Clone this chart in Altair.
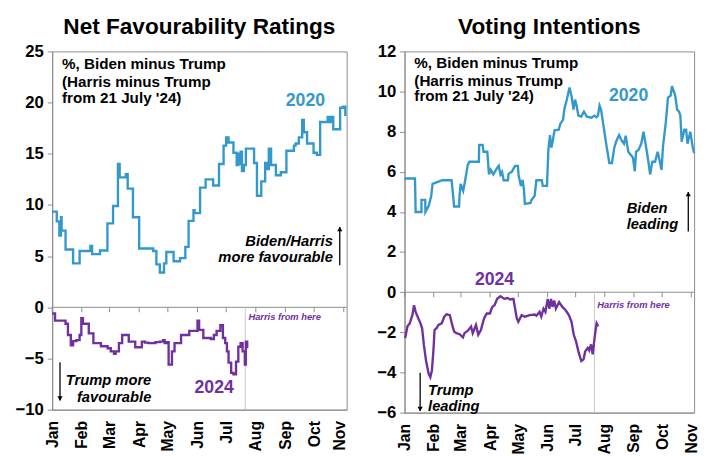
import altair as alt
import pandas as pd

# ---------------- data ----------------
MONTHS = ["Jan", "Feb", "Mar", "Apr", "May", "Jun", "Jul", "Aug", "Sep", "Oct", "Nov"]
MONTH_DAYS = [0, 31, 60, 91, 121, 152, 182, 213, 244, 274, 305]   # day index from 1 Jan (leap years)
X_END = 308
HARRIS_DAY = 202   # 21 July

# Net favourability, 2020 (Biden minus Trump) - stepped poll average
L20_DAY = [0, 4.8, 7.5, 9.2, 9.9, 14, 21.9, 28.7, 40, 41.8, 50, 57.8, 63.7, 68.8, 70.6, 77, 79, 84.5, 91,
           105.7, 109, 112.6, 117, 119.4, 127, 133.8, 139.3, 142.7, 147.8, 149, 154.7, 160.5, 168.4, 174.5,
           179.3, 182, 184.5, 189.6, 193, 194.7, 195.8, 197.1, 198.5, 200.5, 202.6, 211.2, 214.2, 218.7,
           222.8, 224.8, 226.6, 229, 234, 239.2, 245, 252.9, 254.6, 258, 261.5, 263.2, 266.6, 273.4, 276.9,
           280.3, 288.2, 290.6, 292.3, 294, 301.2, 304.2, 306.6, 308]
L20_VAL = [9.35, 8.4, 7.0, 8.8, 7.5, 5.65, 4.3, 5.5, 6.0, 5.2, 5.55, 8.2, 9.9, 14.0, 12.7, 13.0, 11.6, 8.8, 5.75,
           5.5, 4.2, 3.4, 4.3, 5.4, 4.5, 4.8, 5.9, 8.45, 9.5, 9.2, 11.7, 12.5, 11.9, 14.0,
           15.8, 16.6, 16.1, 15.1, 13.9, 15.0, 14.0, 15.2, 13.3, 13.9, 15.5, 14.1, 10.9, 12.3,
           14.1, 13.5, 15.5, 13.9, 12.9, 13.2, 15.3, 15.8, 16.0, 16.6, 18.3, 17.1, 16.0, 15.1, 14.9,
           18.1, 18.6, 18.1, 18.6, 17.4, 19.5, 19.6, 18.8, 18.8]

# Net favourability, 2024 (Biden/Harris minus Trump)
L24_DAY = [0, 3, 14, 16.5, 19.5, 21.9, 25.3, 28.7, 30.5, 32.2, 38.3, 43.1, 51, 58, 61.3, 64.7, 66.4, 69.8,
           73.2, 80.1, 86.9, 93.8, 97, 100.6, 108, 112.6, 116, 117.7, 119.5, 121.8, 125.3, 128, 134.8,
           143.4, 152, 153.7, 158.1, 166, 169.1, 172, 175.9, 178.6, 181, 182.8, 184.5, 187.2, 189.6,
           192.3, 194.7, 197.1, 199.2, 201.5, 202.6, 204]
L24_VAL = [-0.6, -1.3, -1.6, -2.7, -3.7, -3.3, -3.2, -2.7, -1.05, -1.6, -2.55, -3.5, -3.8, -4.0, -4.3, -4.55,
           -4.3, -3.5, -2.7, -3.35, -3.9, -3.35, -3.45, -3.5, -3.4, -3.35, -3.2, -3.5, -3.4, -5.6, -4.3, -3.5,
           -2.7, -2.3, -1.3, -2.2, -3.0, -3.1, -2.7, -2.3, -1.75, -3.0, -3.5, -4.3, -5.4, -6.4, -6.55,
           -5.3, -3.85, -3.5, -4.3, -5.6, -3.35, -4.0]

# Voting intentions, 2020
R20_DAY = [0, 11.1, 11.8, 18, 18, 22, 22.2, 25.7, 28.4, 29.8, 40.2, 50, 51.7, 52.7, 58, 58.5, 59.7, 62.4, 64.5,
           67.3, 69, 79, 79.4, 83, 84, 88, 89.8, 91.6, 94.4, 98.5, 100.2, 102, 103.7, 105.4, 110, 110.6, 114,
           117.6, 120.5, 121.4, 123.8, 125.6, 127, 128, 134, 135, 138.4, 140.2, 146, 147, 151.5, 153, 154.7,
           156.1, 157.5, 159.5, 164, 165.8, 168.6, 170, 172.7, 175.5, 177.9, 179.7, 181.4, 183, 184.9, 188,
           190.8, 194, 198.8, 202, 204, 205.7, 207.4, 209, 211.6, 214.4, 217.8, 220.6, 223, 225, 228.2, 231,
           233.4, 235.2, 238, 240.5, 243, 244.9, 246.3, 249, 251.8, 254.2, 256, 259.4, 261.2, 263.6, 266.5,
           269.2, 270.5, 273.3, 275, 278, 280.2, 283, 284.5, 287.9, 290, 292, 293.4, 294.8, 297.6, 299.5,
           301, 303.9, 306.3, 308]
R20_VAL = [5.67, 5.67, 4.0, 4.0, 4.6, 4.6, 4.0, 4.3, 4.8, 5.4, 5.58, 5.58, 4.8, 4.27, 4.27, 4.8, 5.4, 5.05, 5.58,
           6.36, 6.5, 6.5, 7.34, 7.34, 7.0, 7.0, 5.87, 6.1, 5.87, 6.2, 6.3, 5.87, 6.0, 5.58, 5.58, 5.9, 6.0,
           6.3, 6.3, 5.8, 5.3, 5.6, 5.1, 4.4, 4.45, 4.6, 4.8, 5.58, 5.58, 5.3, 5.3, 7.1, 7.83,
           7.2, 7.5, 8.07, 8.1, 8.4, 8.6, 9.13, 9.62, 10.2, 9.7, 9.1, 9.6, 9.3, 8.8, 8.75,
           9.0, 8.75, 8.7, 8.8, 8.72, 8.8, 9.3, 9.1, 8.3, 7.42, 6.44, 6.44, 7.18, 7.5, 7.83, 7.55,
           7.4, 7.8, 7.0, 6.85, 6.7, 6.03, 7.0, 7.1, 7.4, 8.0, 7.5, 6.5, 5.87, 6.5, 6.5,
           7.0, 6.75, 6.1, 7.3, 8.5, 9.7, 9.8, 10.27, 9.8, 9.1, 9.0, 8.8, 7.5, 8.1, 8.1,
           7.4, 8.0, 7.3, 6.93]

# Voting intentions, 2024
R24_DAY = [0.7, 3.1, 5.5, 8.3, 10.1, 11.8, 14.6, 17, 18.7, 20.5, 22.9, 25.7, 27.4, 29.1, 30.9, 31.9, 34, 36.1,
           39.5, 42.3, 44.7, 48.2, 50.7, 52.7, 55.2, 58.6, 62.1, 63.8, 67.3, 70.8, 72.5, 76, 78.4, 81.2, 84.6,
           87.4, 90.8, 93.3, 95.7, 98.5, 102, 106.1, 109.6, 112.4, 115.8, 117.6, 119.4, 121, 124.6, 128,
           133.2, 138.4, 140.2, 143.6, 145.4, 147.8, 149.8, 152.3, 154, 155.8, 157.4, 159.2, 161, 164.4,
           167.9, 171.4, 174.8, 177.6, 180, 182.4, 185.2, 188, 190.4, 192.2, 194.9, 196.4, 198.4, 200.1,
           202.6, 204.3, 206]
R24_VAL = [-2.28, -1.7, -1.55, -1.14, -0.65, -0.98, -1.3, -1.55, -1.8, -2.6, -3.43, -4.08, -4.24, -3.9, -2.77,
           -1.88, -1.79, -1.63, -1.55, -1.22, -1.1, -1.14, -1.63, -1.96, -2.04, -2.09, -2.25, -2.04, -1.92,
           -1.71, -2.04, -1.63, -2.12, -1.88, -1.3, -1.06, -1.06, -0.73, -0.65, -0.33, -0.2, -0.33, -0.29,
           -0.36, -0.33, -0.82, -1.3, -1.47, -1.14, -1.22, -1.14, -1.11, -1.17, -0.98, -1.22, -0.82, -0.98,
           -0.33, -0.82, -0.33, -0.73, -0.41, -0.82, -0.49, -0.73, -0.9, -1.14, -1.47, -2.12, -2.45, -3.0,
           -3.43, -3.34, -2.94, -2.77, -2.9, -2.6, -3.1, -2.1, -1.55, -1.7]

# ---------------- annotation texts ----------------
NOTE_LINES = ["%, Biden minus Trump", "(Harris minus Trump", "from 21 July '24)"]
L_NOTE_POS = (10.3, [23.73, 22.01, 20.45])
R_NOTE_POS = (10.4, [11.40, 10.52, 9.76])

# ---------------- style ----------------
BLUE = "#3399CC"
PURPLE = "#7030A0"
FONT = "Liberation Sans"
FRAME = "#8C8C8C"

label_expr = "[" + ",".join("'%s'" % m for m in MONTHS) + "][indexof([" + \
    ",".join(str(d) for d in MONTH_DAYS) + "], datum.value)]"


def make_panel(title, ymin, ymax, ystep, width, height, s20, s24, interp20, texts, arrows, tick_len,
               note_pos, nov_shift):
    xs = alt.Scale(domain=[0, X_END], nice=False, zero=False)
    ys = alt.Scale(domain=[ymin, ymax], nice=False, zero=False)
    xaxis = alt.Axis(values=MONTH_DAYS, labelExpr=label_expr, labelAngle=270, ticks=False,
                     labelPadding=11, labelFlush=False, labelOverlap=False, title=None, grid=False,
                     labelFontSize=16,
                     labelOffset={"condition": {"test": "datum.value == %d" % MONTH_DAYS[-1],
                                                "value": nov_shift},
                                  "value": 0})
    yaxis = alt.Axis(values=list(range(ymin, ymax + 1, ystep)), title=None, grid=False, tickSize=5,
                     labelPadding=4, labelFontSize=17, minExtent=44, maxExtent=44,
                     labelFlush=False, labelOverlap=False)

    def X(f):
        return alt.X(f, type="quantitative", scale=xs, axis=xaxis)

    def Y(f):
        return alt.Y(f, type="quantitative", scale=ys, axis=yaxis)

    layers = []
    d20 = pd.DataFrame({"d": s20[0], "v": s20[1], "i": range(len(s20[0]))})
    d24 = pd.DataFrame({"d": s24[0], "v": s24[1], "i": range(len(s24[0]))})
    # zero line
    layers.append(alt.Chart(pd.DataFrame({"y": [0]})).mark_rule(color=FRAME, strokeWidth=1)
                  .encode(y=Y("y")))
    # month ticks hanging from zero line
    layers.append(alt.Chart(pd.DataFrame({"d": MONTH_DAYS, "y": [0] * len(MONTH_DAYS),
                                          "y2": [-tick_len] * len(MONTH_DAYS)}))
                  .mark_rule(color=FRAME, strokeWidth=1)
                  .encode(x=X("d"), y=Y("y"), y2="y2"))
    # Harris marker line
    layers.append(alt.Chart(pd.DataFrame({"d": [HARRIS_DAY], "y": [0], "y2": [ymin]}))
                  .mark_rule(color="#C8C8C8", strokeWidth=1)
                  .encode(x=X("d"), y=Y("y"), y2="y2"))
    # series
    layers.append(alt.Chart(d20).mark_line(color=BLUE, strokeWidth=2.4, interpolate=interp20)
                  .encode(x=X("d"), y=Y("v"), order="i:Q"))
    layers.append(alt.Chart(d24).mark_line(color=PURPLE, strokeWidth=2.4,
                                           interpolate=interp20 if interp20 == "step-after" else "linear")
                  .encode(x=X("d"), y=Y("v"), order="i:Q"))
    # note text (3 lines)
    nd = pd.DataFrame({"d": [note_pos[0]] * 3, "v": note_pos[1], "t": NOTE_LINES})
    layers.append(alt.Chart(nd).mark_text(align="left", baseline="middle", font=FONT, fontSize=15.5,
                                          fontWeight="bold", color="black")
                  .encode(x=X("d"), y=Y("v"), text="t:N"))
    for t in texts:
        df = pd.DataFrame({"d": [t["d"]], "v": [t["v"]], "t": [t["text"]]})
        layers.append(alt.Chart(df).mark_text(align=t.get("align", "center"), baseline="middle", font=FONT,
                                              fontSize=t["size"], fontWeight="bold",
                                              fontStyle=t.get("style", "normal"), color=t["color"])
                      .encode(x=X("d"), y=Y("v"), text="t:N"))
    for a in arrows:
        df = pd.DataFrame({"d": [a["d"]], "v": [a["v1"]], "v2": [a["v2"]]})
        layers.append(alt.Chart(df).mark_rule(color="black", strokeWidth=1.3)
                      .encode(x=X("d"), y=Y("v"), y2="v2"))
        hd = pd.DataFrame({"d": [a["d"]], "v": [a["v2"]]})
        up = a["v2"] > a["v1"]
        layers.append(alt.Chart(hd).mark_point(shape="triangle-up" if up else "triangle-down", filled=True,
                                               size=28, color="black", opacity=1,
                                               yOffset=2 if up else -2)
                      .encode(x=X("d"), y=Y("v")))
    return alt.layer(*layers).properties(
        width=width, height=height,
        title=alt.TitleParams(title, font=FONT, fontSize=23, fontWeight="bold", color="black",
                              anchor="middle", offset=4))


left_texts = [
    {"text": "2020", "d": 264.9, "v": 20.1, "size": 18, "color": BLUE},
    {"text": "Biden/Harris", "d": 293.6, "v": 6.51, "size": 15, "color": "black", "align": "right", "style": "italic"},
    {"text": "more favourable", "d": 293.6, "v": 4.95, "size": 15, "color": "black", "align": "right", "style": "italic"},
    {"text": "2024", "d": 169.4, "v": -7.85, "size": 18, "color": PURPLE},
    {"text": "Trump more", "d": 103.7, "v": -7.08, "size": 15, "color": "black", "align": "right", "style": "italic"},
    {"text": "favourable", "d": 103.7, "v": -8.8, "size": 15, "color": "black", "align": "right", "style": "italic"},
    {"text": "Harris from here", "d": 205.3, "v": -0.96, "size": 9.5, "color": PURPLE, "align": "left", "style": "italic"},
]
left_arrows = [
    {"d": 300.8, "v1": 4.1, "v2": 7.85},
    {"d": 8.2, "v1": -5.36, "v2": -9.1},
]
right_texts = [
    {"text": "2020", "d": 238.3, "v": 9.78, "size": 18, "color": BLUE},
    {"text": "Biden", "d": 236.3, "v": 4.21, "size": 15, "color": "black", "align": "left", "style": "italic"},
    {"text": "leading", "d": 236.3, "v": 3.38, "size": 15, "color": "black", "align": "left", "style": "italic"},
    {"text": "2024", "d": 95.7, "v": 0.59, "size": 18, "color": PURPLE},
    {"text": "Trump", "d": 25.0, "v": -4.89, "size": 15, "color": "black", "align": "left", "style": "italic"},
    {"text": "leading", "d": 25.0, "v": -5.68, "size": 15, "color": "black", "align": "left", "style": "italic"},
    {"text": "Harris from here", "d": 205.0, "v": -0.64, "size": 9.5, "color": PURPLE, "align": "left", "style": "italic"},
]
right_arrows = [
    {"d": 301.8, "v1": 3.03, "v2": 4.99},
    {"d": 16.6, "v1": -4.01, "v2": -5.92},
]

left = make_panel("Net Favourability Ratings", -10, 25, 5, 300, 365, (L20_DAY, L20_VAL), (L24_DAY, L24_VAL),
                  "step-after", left_texts, left_arrows, 0.48, L_NOTE_POS, -4)
right = make_panel("Voting Intentions", -6, 12, 2, 295, 368, (R20_DAY, R20_VAL), (R24_DAY, R24_VAL),
                   "linear", right_texts, right_arrows, 0.25, R_NOTE_POS, 0)

chart = alt.hconcat(left, right, spacing=8).properties(
    padding={"left": 0, "top": 3, "right": 0, "bottom": 0}
).configure_view(stroke=FRAME, strokeWidth=1).configure_axis(
    labelFont=FONT, labelFontWeight="bold", labelColor="black", domainColor=FRAME, tickColor=FRAME
).configure_concat(spacing=8)

chart.save("out.html", embed_options={"renderer": "svg", "actions": False})
